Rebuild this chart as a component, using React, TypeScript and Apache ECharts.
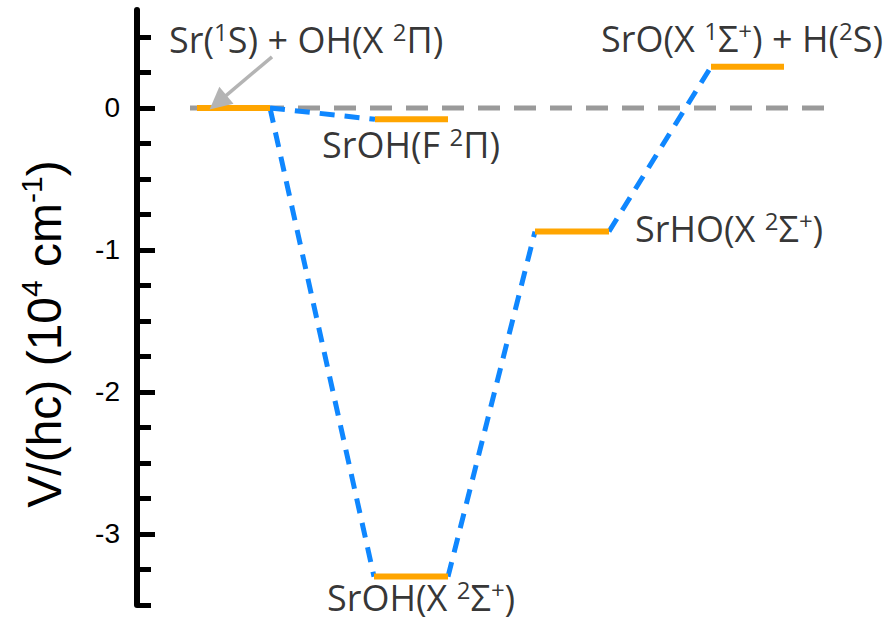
import React, { useEffect, useRef } from "react";
import * as echarts from "echarts";

// Energy levels (10^4 cm^-1) and their horizontal extent on the reaction coordinate
const levelNames = ["Sr+OH", "SrOH(F)", "SrOH(X)", "SrHO(X)", "SrO+H"];
const levelEnergies = [0, -0.08, -3.3, -0.87, 0.29];
const levelStart = [0.6, 2.38, 2.37, 3.98, 5.74];
const levelEnd = [1.33, 3.11, 3.11, 4.72, 6.47];

// Blue dashed connections: [from level, to level]
const connections = [
  [0, 1],
  [0, 2],
  [2, 3],
  [3, 4],
];

// Level annotations (rich text) and anchor points (left edge, vertical middle)
const labelTexts = [
  "Sr({s|1}S) + OH(X {s|2}Π)",
  "SrOH(F {s|2}Π)",
  "SrOH(X {s|2}Σ{s|+})",
  "SrHO(X {s|2}Σ{s|+})",
  "SrO(X {s|1}Σ{s|+}) + H({s|2}S)",
];
const labelX = [0.32, 1.85, 1.9, 4.98, 4.64];
const labelY = [0.48, -0.26, -3.45, -0.85, 0.49];

// Zero reference line extent
const zeroLine = [
  [0.53, 0],
  [6.99, 0],
];

// Arrow pointing to the entrance-channel level
const arrowCoords = [
  [1.35, 0.36],
  [0.81, 0.04],
];

// Axis ticks
const yMin = -3.5;
const yMax = 0.69;
const minorTicks = [-3.5, -3.25, -3, -2.75, -2.5, -2.25, -2, -1.75, -1.5, -1.25, -1, -0.75, -0.5, -0.25, 0, 0.25, 0.5];
const majorTicks = [-3, -2, -1, 0];

const ORANGE = "#FFA500";
const BLUE = "#0F87FF";
const LABEL_FONT = "'Open Sans', 'Noto Sans', sans-serif";
const AXIS_FONT = "'Liberation Sans', Arial, sans-serif";

export default function App() {
  const ref = useRef<HTMLDivElement>(null);

  useEffect(() => {
    if (!ref.current) return;
    const chart = echarts.init(ref.current, undefined, { renderer: "svg" });

    const series: any[] = [];

    series.push({
      type: "line",
      data: zeroLine,
      symbol: "none",
      z: 1,
      lineStyle: { color: "#9a9a9a", width: 5, type: [22, 14], cap: "butt" },
      silent: true,
    });

    connections.forEach(([a, b]) => {
      series.push({
        type: "line",
        data: [
          [levelEnd[a], levelEnergies[a]],
          [levelStart[b], levelEnergies[b]],
        ],
        symbol: "none",
        z: 3,
        lineStyle: { color: BLUE, width: 5, type: [15, 10], cap: "butt" },
        silent: true,
      });
    });

    levelNames.forEach((name, i) => {
      series.push({
        type: "line",
        name,
        data: [
          [levelStart[i], levelEnergies[i]],
          [levelEnd[i], levelEnergies[i]],
        ],
        symbol: "none",
        z: 4,
        lineStyle: { color: ORANGE, width: 6, cap: "butt" },
        silent: true,
      });
    });

    series.push({
      type: "lines",
      coordinateSystem: "cartesian2d",
      z: 5,
      symbol: ["none", "triangle"],
      symbolSize: [0, 22],
      lineStyle: { color: "#b4b4b4", width: 3.5, opacity: 1 },
      data: [{ coords: arrowCoords }],
      silent: true,
    });

    series.push({
      type: "scatter",
      symbolSize: 0,
      z: 6,
      clip: false,
      silent: true,
      data: labelTexts.map((t, i) => ({ value: [labelX[i], labelY[i]], name: t })),
      label: {
        show: true,
        position: "right",
        distance: 0,
        formatter: (p: any) => p.name,
        fontFamily: LABEL_FONT,
        fontSize: 36,
        lineHeight: 40,
        color: "#000",
        rich: {
          s: {
            fontFamily: LABEL_FONT,
            fontSize: 24,
            lineHeight: 25,
            verticalAlign: "top",
            color: "#000",
          },
        },
      },
    });

    chart.setOption({
      animation: false,
      grid: { left: 137, right: 9, top: 10, bottom: 17, containLabel: false },
      xAxis: { type: "value", min: 0, max: 7.5, show: false },
      yAxis: [
        {
          type: "value",
          min: yMin,
          max: yMax,
          position: "left",
          offset: 0,
          axisLine: { show: true, lineStyle: { color: "#000", width: 6 } },
          axisTick: {
            show: true,
            inside: true,
            length: 14,
            customValues: minorTicks,
            lineStyle: { color: "#000", width: 5 },
          },
          axisLabel: { show: false },
          splitLine: { show: false },
        },
        {
          type: "value",
          min: yMin,
          max: yMax,
          position: "left",
          offset: 0,
          axisLine: { show: false },
          axisTick: {
            show: true,
            inside: true,
            length: 18,
            customValues: majorTicks,
            lineStyle: { color: "#000", width: 5 },
          },
          axisLabel: {
            show: true,
            customValues: majorTicks,
            margin: 17,
            fontFamily: AXIS_FONT,
            fontSize: 28,
            color: "#000",
            formatter: (v: number) => String(v),
          },
          splitLine: { show: false },
        },
      ],
      graphic: [
        {
          type: "text",
          x: 44,
          y: 334,
          rotation: Math.PI / 2,
          style: {
            text: "V/(hc) (10{s|4} cm{s|-1})",
            fontFamily: AXIS_FONT,
            fontSize: 48,
            lineHeight: 56,
            fill: "#000",
            align: "center",
            verticalAlign: "middle",
            rich: {
              s: {
                fontFamily: AXIS_FONT,
                fontSize: 30,
                lineHeight: 28,
                verticalAlign: "top",
                fill: "#000",
              },
            },
          },
        },
      ],
      series,
    });

    return () => chart.dispose();
  }, []);

  return (
    <div
      ref={ref}
      style={{ position: "absolute", left: 0, top: 0, width: 896, height: 622 }}
    />
  );
}
